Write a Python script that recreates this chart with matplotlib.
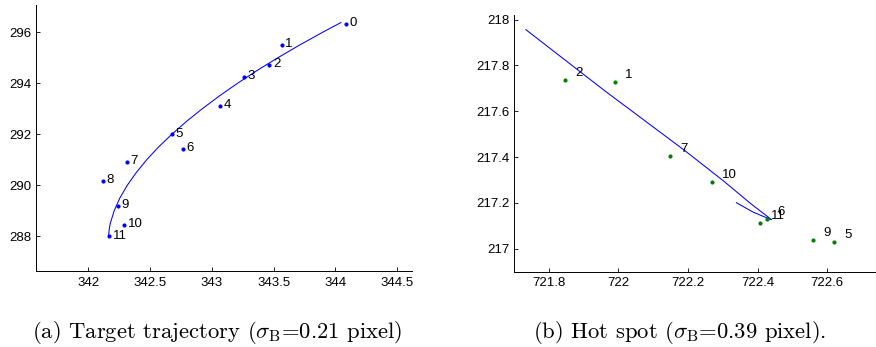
import matplotlib
matplotlib.use('Agg')
import matplotlib.pyplot as plt
from matplotlib.ticker import FixedLocator, FuncFormatter

plt.rcParams['font.family'] = ['Liberation Sans', 'DejaVu Sans']
plt.rcParams['mathtext.fontset'] = 'cm'

# (a) target trajectory: measured points and fitted curve
traj_id = ['0', '1', '2', '3', '4', '5', '6', '7', '8', '9', '10', '11']
traj_x = [344.082, 343.564, 343.463, 343.256, 343.068, 342.676,
          342.763, 342.308, 342.114, 342.240, 342.289, 342.166]
traj_y = [296.315, 295.515, 294.719, 294.248, 293.111, 292.000,
          291.436, 290.915, 290.181, 289.201, 288.456, 288.000]
traj_fit_x = [342.163, 342.167, 342.176, 342.208, 342.254, 342.314, 342.387,
              342.471, 342.567, 342.675, 342.792, 342.921, 343.059, 343.207,
              343.365, 343.533, 343.710, 343.896, 344.044]
traj_fit_y = [288.0, 288.25, 288.5, 289.0, 289.5, 290.0, 290.5, 291.0, 291.5,
              292.0, 292.5, 293.0, 293.5, 294.0, 294.5, 295.0, 295.5, 296.0,
              296.38]
traj_xticks = [342, 342.5, 343, 343.5, 344, 344.5]
traj_yticks = [288, 290, 292, 294, 296]

# (b) hot spot: measured points and fitted curve
hot_id = ['2', '1', '7', '10', '6', '11', '9', '5']
hot_x = [721.845, 721.990, 722.148, 722.268, 722.428, 722.408, 722.558, 722.620]
hot_y = [217.737, 217.727, 217.405, 217.290, 217.131, 217.111, 217.039, 217.031]
hot_fit_x = [721.734, 721.960, 722.191, 722.301, 722.380, 722.440,
             722.415, 722.387, 722.339]
hot_fit_y = [217.956, 217.690, 217.428, 217.297, 217.197, 217.127,
             217.142, 217.160, 217.201]
hot_xticks = [721.8, 722, 722.2, 722.4, 722.6]
hot_yticks = [217, 217.2, 217.4, 217.6, 217.8, 218]

captions = [r'(a) Target trajectory ($\sigma_{\rm B}$=0.21 pixel)',
            r'(b) Hot spot ($\sigma_{\rm B}$=0.39 pixel).']

fig = plt.figure(figsize=(8.76, 3.47), dpi=100)
ax1 = fig.add_axes([0.0411, 0.219, 0.4292, 0.7666])
ax2 = fig.add_axes([0.5868, 0.217, 0.4132, 0.7398])

fmt = FuncFormatter(lambda v, p: '%g' % v)


def style(ax, xt, yt):
    for s in ['top', 'right']:
        ax.spines[s].set_visible(False)
    for s in ['left', 'bottom']:
        ax.spines[s].set_linewidth(0.7)
    ax.xaxis.set_major_locator(FixedLocator(xt))
    ax.yaxis.set_major_locator(FixedLocator(yt))
    ax.xaxis.set_major_formatter(fmt)
    ax.yaxis.set_major_formatter(fmt)
    ax.tick_params(direction='in', length=3, width=0.6, labelsize=9.5,
                   top=False, right=False)
    ax.tick_params(axis='x', pad=4)
    ax.tick_params(axis='y', pad=3.5)


ax1.plot(traj_fit_x, traj_fit_y, color='blue', lw=0.75)
ax1.plot(traj_x, traj_y, 'o', color='blue', ms=3, mew=0)
for i, x, y in zip(traj_id, traj_x, traj_y):
    ax1.text(x + 0.03, y + 0.03, i, fontsize=9.5, ha='left', va='center')
ax1.set_xlim(341.575, 344.62)
ax1.set_ylim(286.64, 297.07)
style(ax1, traj_xticks, traj_yticks)

ax2.plot(hot_fit_x, hot_fit_y, color='blue', lw=0.75)
ax2.plot(hot_x, hot_y, 'o', color='#008000', ms=3, mew=0)
for i, x, y in zip(hot_id, hot_x, hot_y):
    ax2.text(x + 0.03, y + 0.03, i, fontsize=9.5, ha='left', va='center')
ax2.set_xlim(721.70, 722.74)
ax2.set_ylim(216.9, 218.02)
style(ax2, hot_xticks, hot_yticks)

fig.text(32 / 876, 1 - 338 / 347, captions[0], fontsize=16.3,
         family='cmr10', ha='left', va='baseline')
fig.text(533 / 876, 1 - 338 / 347, captions[1], fontsize=16.3,
         family='cmr10', ha='left', va='baseline')

fig.savefig('out.png', dpi=100)
